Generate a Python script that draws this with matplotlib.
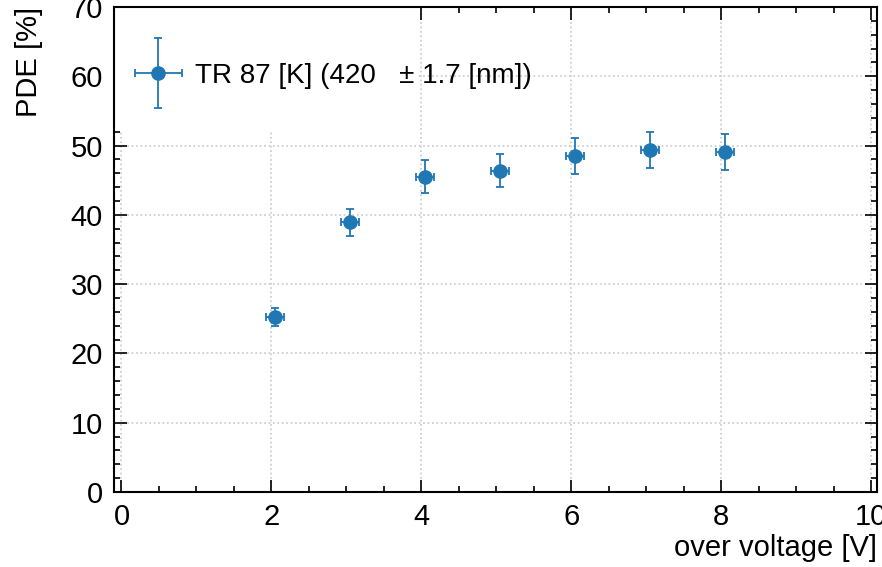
import matplotlib
matplotlib.use("Agg")
import matplotlib.pyplot as plt
from matplotlib.legend_handler import HandlerErrorbar
from matplotlib.patches import Rectangle
from matplotlib.ticker import MultipleLocator

# over voltage [V] and PDE [%] with errors
over_voltage = [2.05, 3.05, 4.05, 5.05, 6.05, 7.05, 8.05]
over_voltage_err = [0.12, 0.12, 0.12, 0.12, 0.12, 0.12, 0.12]
pde = [25.2, 38.9, 45.5, 46.4, 48.5, 49.4, 49.1]
pde_err = [1.3, 2.0, 2.35, 2.4, 2.55, 2.6, 2.6]
label = "TR 87 [K] (420   \u00b1 1.7 [nm])"

plt.rcParams["font.family"] = ["Liberation Sans", "DejaVu Sans"]
plt.rcParams["font.size"] = 21

fig = plt.figure(figsize=(8.82, 5.67), dpi=100)
ax = fig.add_axes([114 / 882, 1 - 492 / 567, 763 / 882, 485 / 567])

eb = ax.errorbar(over_voltage, pde, xerr=over_voltage_err, yerr=pde_err,
                 fmt="o", color="#1f77b4", markersize=9.5, elinewidth=1.3,
                 capsize=3, capthick=1.3, label=label, zorder=3)

ax.set_xlim(-0.1, 10.08)
ax.set_ylim(0, 70)
ax.xaxis.set_major_locator(MultipleLocator(2))
ax.xaxis.set_minor_locator(MultipleLocator(0.5))
ax.yaxis.set_major_locator(MultipleLocator(10))
ax.yaxis.set_minor_locator(MultipleLocator(2))
ax.tick_params(which="both", direction="in", top=True, right=True, width=1.2)
ax.tick_params(which="major", length=9, pad=8)
ax.tick_params(which="minor", length=4.5)
for s in ax.spines.values():
    s.set_linewidth(1.5)
ax.grid(True, which="major", linestyle=":", color="#c8c8c8", linewidth=1.2)
ax.set_axisbelow(True)

# blank legend area hiding the grid behind it
ax.add_patch(Rectangle((0, 0.746), 0.398, 0.254, transform=ax.transAxes,
                       facecolor="white", edgecolor="none", zorder=1))

ax.set_xlabel("over voltage [V]", loc="right", labelpad=2)
ax.set_ylabel("PDE [%]", loc="top", labelpad=20)

leg = ax.legend(loc="upper left", bbox_to_anchor=(0.0105, 0.908),
                borderaxespad=0, frameon=False, fontsize=20,
                handlelength=1.8, handletextpad=0.43,
                handler_map={type(eb): HandlerErrorbar(xerr_size=0.85, yerr_size=1.26)})

fig.savefig("out.png", dpi=100)
